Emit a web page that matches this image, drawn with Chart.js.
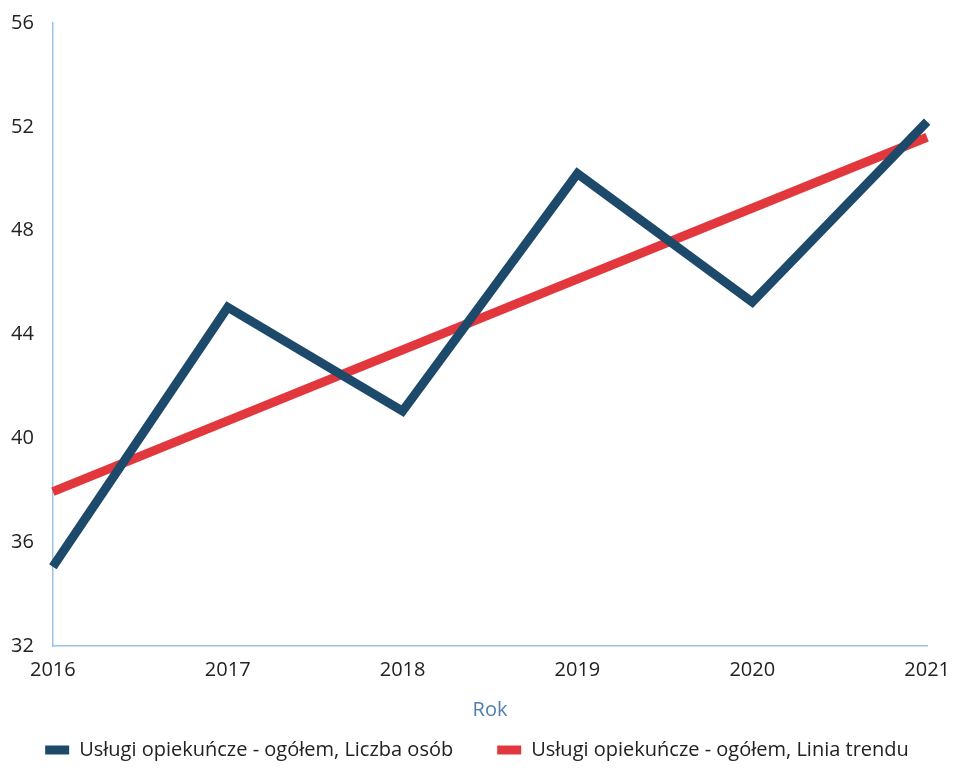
<!DOCTYPE html>
<html>
<head>
<meta charset="utf-8">
<script src="https://cdn.jsdelivr.net/npm/chart.js@4/dist/chart.umd.min.js"></script>
<style>
html,body{margin:0;padding:0;background:#fff;}
#wrap{width:954px;height:770px;position:relative;}
</style>
</head>
<body>
<div id="wrap"><canvas id="c"></canvas></div>
<script>
const years = ["2016","2017","2018","2019","2020","2021"];
const liczbaOsob = [35.05, 45.05, 41.05, 50.2, 45.25, 52.2];
const liniaTrendu = [37.95, null, null, null, null, 51.6];
const yTicks = [32, 36, 40, 44, 48, 52, 56];
const seriesNames = ["Usługi opiekuńcze - ogółem, Liczba osób", "Usługi opiekuńcze - ogółem, Linia trendu"];
const axisTitle = "Rok";

const FONT = "'Open Sans', 'Noto Sans', sans-serif";
new Chart(document.getElementById('c'), {
  type: 'line',
  data: {
    labels: years,
    datasets: [
      {label: seriesNames[0], data: liczbaOsob, borderColor: '#1d4a6a', backgroundColor: '#1d4a6a', borderWidth: 9, pointRadius: 0, tension: 0, borderJoinStyle: 'miter'},
      {label: seriesNames[1], data: liniaTrendu, borderColor: '#e2383d', backgroundColor: '#e2383d', borderWidth: 9, pointRadius: 0, spanGaps: true}
    ]
  },
  options: {
    responsive: true,
    maintainAspectRatio: false,
    animation: false,
    devicePixelRatio: 1,
    layout: {padding: {top: 2, right: 0, left: 0, bottom: 0}},
    plugins: {
      legend: {
        position: 'bottom',
        labels: {
          font: {family: FONT, size: 20},
          color: '#222',
          boxWidth: 24, boxHeight: 9,
          padding: 44,
          generateLabels: (chart) => Chart.defaults.plugins.legend.labels.generateLabels(chart).map(l => Object.assign(l, {lineWidth: 0}))
        }
      },
      tooltip: {enabled: false}
    },
    scales: {
      x: {
        offset: false,
        grid: {display: false},
        border: {display: true, color: '#9cc3e6', width: 1.5},
        ticks: {font: {family: FONT, size: 20}, color: '#222', padding: 4, maxRotation: 0},
        title: {display: true, text: axisTitle, color: '#4f7fae', font: {family: FONT, size: 20}, padding: {top: 12, bottom: -26}}
      },
      y: {
        min: 32, max: 56,
        afterBuildTicks: (s) => { s.ticks = yTicks.map(v => ({value: v})); },
        grid: {display: false},
        border: {display: true, color: '#9cc3e6', width: 1.5},
        ticks: {font: {family: FONT, size: 20}, color: '#222', padding: 11}
      }
    }
  }
});
</script>
</body>
</html>
